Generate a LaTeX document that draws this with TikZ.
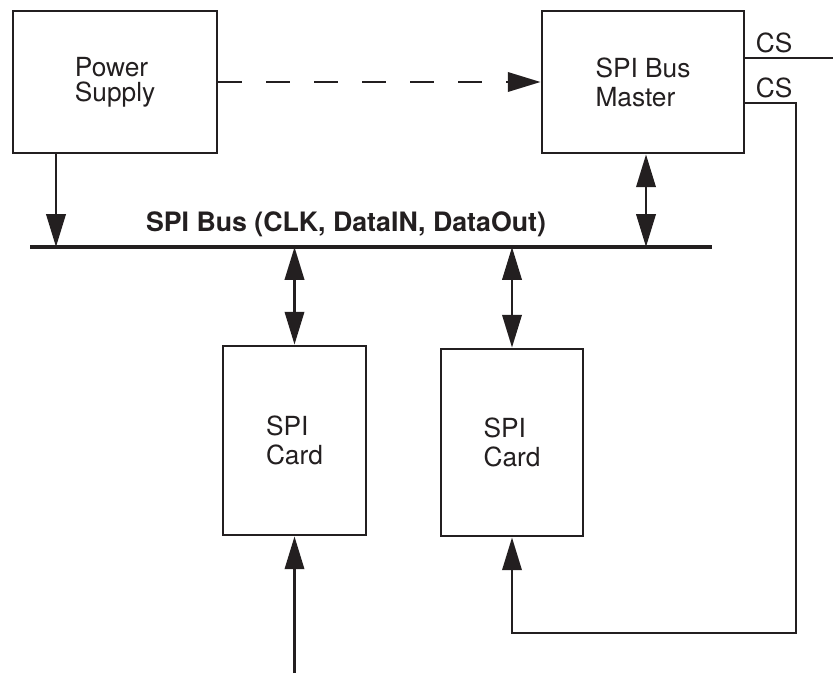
\documentclass[tikz,border=0pt]{standalone}
\usepackage{fontspec}
\setmainfont{TeX Gyre Heros}
\usetikzlibrary{arrows.meta}
\definecolor{ink}{HTML}{231F20}
\begin{document}
\begin{tikzpicture}[x=0.025cm, y=-0.025cm, color=ink,
          font=\fontsize{18.7}{20.5}\selectfont, >={Triangle[length=0.82cm, width=0.48cm]},
          blk/.style={draw, line width=1.9pt, align=left, inner sep=0pt},
          wire/.style={line width=2.1pt},
          bus/.style={line width=3.2pt}]
        \useasboundingbox (0,0) rectangle (833,675);
        % blocks
        \node[blk, minimum width=5.1cm, minimum height=3.55cm, font=\fontsize{18.7}{17.5}\selectfont] (power) at (115,82) {Power\\Supply};
        \node[blk, minimum width=5.05cm, minimum height=3.55cm] (master) at (643,82) {SPI Bus\\Master};
        \node[blk, minimum width=3.575cm, minimum height=4.725cm] (card1) at (294.5,440.5) {SPI\\Card};
        \node[blk, minimum width=3.55cm, minimum height=4.675cm] (card2) at (512,442.5) {SPI\\Card};
        % bus
        \coordinate (busl) at (30,247);
        \coordinate (busr) at (712,247);
        \draw[bus] (busl) -- (busr);
        \node[font=\fontsize{19}{20}\selectfont\bfseries, anchor=base] (buslbl) at (346,232) {SPI Bus (CLK, DataIN, DataOut)};
        \coordinate (tapp) at (56,247);
        \coordinate (tapm) at (646,247);
        \draw[wire, ->] (power.south -| tapp) -- (tapp);
        \draw[wire, <->] (master.south -| tapm) -- (tapm);
        \foreach \c in {card1, card2} {\draw[wire, <->] (\c.north |- busl) -- (\c.north);}
        \draw[wire, ->, dash pattern=on 0.6cm off 0.6cm] (power) -- (master);
        % chip selects
        \coordinate (cs1) at ([yshift=0.6cm]master.east);
        \coordinate (cs2) at ([yshift=-0.525cm]master.east);
        \coordinate (csturn) at (796,633);
        \node[anchor=base west] (cslbl1) at (751,53) {CS};
        \node[anchor=base west] (cslbl2) at (751,98) {CS};
        \draw[wire] (cs1) -- ++(92,0);
        \draw[wire, ->] (cs2) -| (csturn) -| (card2.south);
        \coordinate (cardin) at (294.5,673);
        \draw[wire, ->] (cardin) -- (card1.south);
      \end{tikzpicture}
\end{document}
